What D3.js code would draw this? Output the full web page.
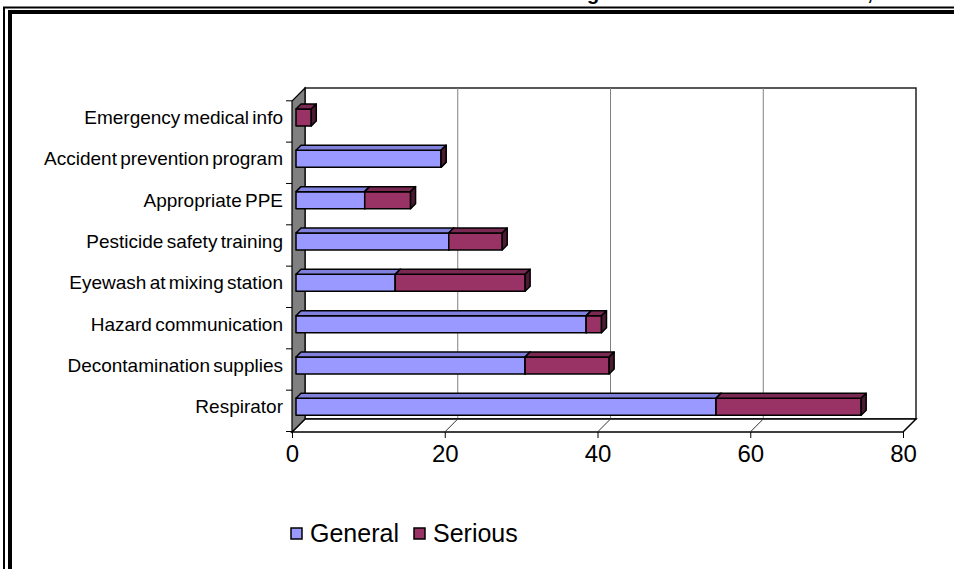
<!DOCTYPE html>
<html lang="en">
<head>
<meta charset="UTF-8">
<title>Violations chart</title>
<script src="https://d3js.org/d3.v7.min.js"></script>
<style>
  body { margin: 0; padding: 0; background: #fff; }
  svg { display: block; font-family: Arial, "Liberation Sans", sans-serif; }
  .cat text { font-size: 19px; word-spacing: -2px; fill: #000; }
  .xaxis text { font-size: 24px; fill: #000; }
  .legend text { font-size: 25px; fill: #000; }
</style>
</head>
<body>
<svg id="chart" width="954" height="569"></svg>
<script>
// Chart data (bottom to top)
const categories = [
  "Respirator",
  "Decontamination supplies",
  "Hazard communication",
  "Eyewash at mixing station",
  "Pesticide safety training",
  "Appropriate PPE",
  "Accident prevention program",
  "Emergency medical info"
];
const general = [55, 30, 38, 13, 20, 9, 19, 0];
const serious = [19, 11, 2, 17, 7, 6, 0, 2];
const seriesNames = ["General", "Serious"];
const xTicks = [0, 20, 40, 60, 80];

const colors = {
  General: { front: "#9999ff", top: "#8080dd", side: "#4d4d80" },
  Serious: { front: "#993366", top: "#7a2952", side: "#4d1a33" }
};

const svg = d3.select("#chart");

// outer double frame (runs off the right/bottom edges)
svg.append("rect").attr("x", 4).attr("y", 7.5).attr("width", 1200).attr("height", 900)
  .attr("fill", "none").attr("stroke", "#000").attr("stroke-width", 2);
svg.append("rect").attr("x", 10).attr("y", 12).attr("width", 1200).attr("height", 900)
  .attr("fill", "none").attr("stroke", "#000").attr("stroke-width", 4);

// bits of the title that peek in at the very top
svg.append("text").attr("x", 593).attr("y", 0).attr("text-anchor", "middle")
  .attr("font-size", 20).attr("font-weight", "bold").text("g");
svg.append("text").attr("x", 870).attr("y", 0).attr("text-anchor", "middle")
  .attr("font-size", 20).attr("font-weight", "bold").text(",");

// scales (front plane)
const x = d3.scaleLinear().domain([0, 80]).range([292, 903]);
const y = d3.scaleBand().domain(categories).range([431.5, 100.8]);

const depth = 13;          // wall depth offset
const barOff = 4;          // bar front face offset into the depth
const barDepth = 5;        // bar thickness in depth
const barH = 17;

const wallTop = 88, floorY = 432;

// back wall
svg.append("rect")
  .attr("x", x(0) + depth).attr("y", wallTop)
  .attr("width", x(80) - x(0)).attr("height", floorY - depth - wallTop)
  .attr("fill", "#fff").attr("stroke", "#222").attr("stroke-width", 1.5);

// back wall gridlines
svg.append("g").selectAll("line")
  .data(xTicks.filter(d => d > 0 && d < 80))
  .join("line")
  .attr("x1", d => x(d) + depth).attr("x2", d => x(d) + depth)
  .attr("y1", wallTop).attr("y2", floorY - depth)
  .attr("stroke", "#808080").attr("stroke-width", 1);

// floor
const floorPts = [
  [x(0), floorY], [x(0) + depth, floorY - depth],
  [x(80) + depth, floorY - depth], [x(80), floorY]
];
svg.append("polygon")
  .attr("points", floorPts.map(p => p.join(",")).join(" "))
  .attr("fill", "#fff").attr("stroke", "#000").attr("stroke-width", 1.5);

svg.append("g").selectAll("line")
  .data(xTicks.filter(d => d > 0 && d < 80))
  .join("line")
  .attr("x1", d => x(d)).attr("y1", floorY)
  .attr("x2", d => x(d) + depth).attr("y2", floorY - depth)
  .attr("stroke", "#333").attr("stroke-width", 1);

// left (side) wall
const wallPts = [
  [x(0), floorY], [x(0) + depth, floorY - depth],
  [x(0) + depth, wallTop], [x(0), wallTop + depth]
];
svg.append("polygon")
  .attr("points", wallPts.map(p => p.join(",")).join(" "))
  .attr("fill", "#808080").attr("stroke", "#000").attr("stroke-width", 1.2);

// category boundary ticks on the left
svg.append("g").selectAll("line")
  .data(categories.map(c => y(c)).concat([y.range()[0]]))
  .join("line")
  .attr("x1", x(0) - 6).attr("x2", x(0))
  .attr("y1", d => d).attr("y2", d => d)
  .attr("stroke", "#000").attr("stroke-width", 1);

// category labels (sit level with the bars, a little above band centre)
const yAxis = d3.axisLeft(y).tickSize(0).tickPadding(9);
svg.append("g").attr("class", "cat")
  .attr("transform", `translate(${x(0)},-3.5)`)
  .call(yAxis)
  .call(g => g.select(".domain").remove());

// stacked 3D bars
const rows = categories.map((c, i) => ({
  cat: c,
  segs: [
    { name: "General", x0: 0, x1: general[i] },
    { name: "Serious", x0: general[i], x1: general[i] + serious[i] }
  ]
}));

const barG = svg.append("g");
rows.forEach(r => {
  const cy = y(r.cat) + y.bandwidth() / 2 - barOff;
  const y0 = cy - barH / 2, y1 = cy + barH / 2;
  r.segs.forEach(s => {
    if (s.x1 === s.x0 && s.name === "General") return;
    const xa = x(s.x0) + barOff, xb = x(s.x1) + barOff;
    const c = colors[s.name];
    const g = barG.append("g").attr("stroke", "#000").attr("stroke-width", 1.5)
      .attr("stroke-linejoin", "round");
    if (xb > xa) {
      // front
      g.append("rect").attr("x", xa).attr("y", y0)
        .attr("width", xb - xa).attr("height", barH).attr("fill", c.front);
      // top
      g.append("polygon").attr("fill", c.top).attr("points", [
        [xa, y0], [xa + barDepth, y0 - barDepth], [xb + barDepth, y0 - barDepth], [xb, y0]
      ].map(p => p.join(",")).join(" "));
    }
    // right side
    g.append("polygon").attr("fill", c.side).attr("points", [
      [xb, y0], [xb + barDepth, y0 - barDepth], [xb + barDepth, y1 - barDepth], [xb, y1]
    ].map(p => p.join(",")).join(" "));
  });
});

// x axis ticks and labels
const xAxis = d3.axisBottom(x).tickValues(xTicks).tickSize(6).tickPadding(7).tickFormat(d3.format("d"));
svg.append("g").attr("class", "xaxis")
  .attr("transform", `translate(0,${floorY})`)
  .call(xAxis)
  .call(g => g.select(".domain").remove())
  .call(g => g.selectAll(".tick line").attr("stroke", "#000"));

// legend
const legend = svg.append("g").attr("class", "legend");
const legendX = [291, 414];
seriesNames.forEach((n, i) => {
  legend.append("rect").attr("x", legendX[i]).attr("y", 528)
    .attr("width", 11).attr("height", 11)
    .attr("fill", colors[n].front).attr("stroke", "#000").attr("stroke-width", 1.5);
  legend.append("text").attr("x", legendX[i] + 19).attr("y", 542).text(n);
});
</script>
</body>
</html>
